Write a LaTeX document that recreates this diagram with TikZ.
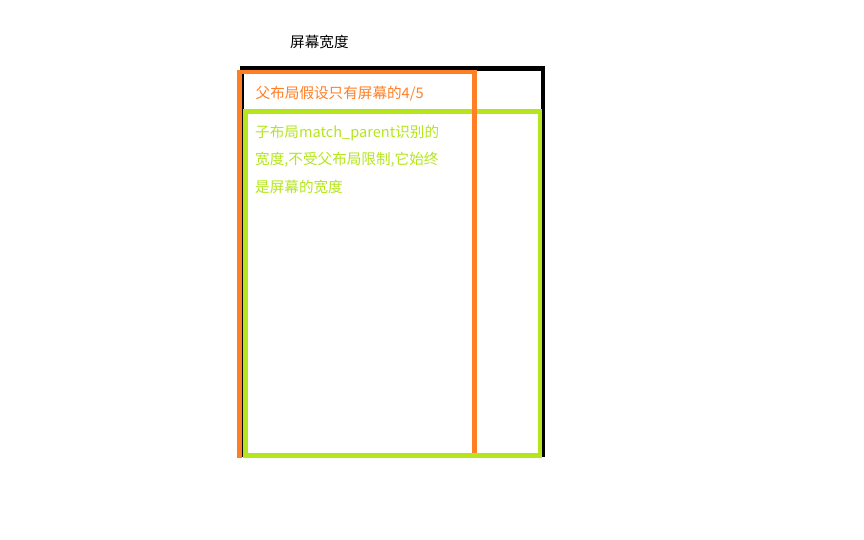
\documentclass[tikz,border=0pt]{standalone}
\usepackage{fontspec}
\setmainfont{Noto Sans CJK SC}
\definecolor{paintorange}{HTML}{FF7F27}
\definecolor{paintlime}{HTML}{B5E61D}
\begin{document}
\begin{tikzpicture}[x=1pt,y=-1pt,
  lbl/.style={anchor=west,inner sep=0pt,font=\fontsize{14.6}{16}\selectfont},
  frame/.style={line width=4.5pt}]
\useasboundingbox[fill=white] (0,0) rectangle (864,540);
% screen (black)
\draw[frame,black] (242,68.5) rectangle (543,455);
% child (green)
\draw[frame,paintlime] (245.5,111.5) rectangle (540,455.5);
% parent (orange)
\draw[frame,paintorange] (239.5,458) -- (239.5,72) -- (474.5,72) -- (474.5,453);
% green bottom edge over orange
\draw[frame,paintlime] (243.3,455.5) -- (542.2,455.5);
% labels
\node[lbl,text=black] (t0) at (290,42) {屏幕宽度};
\node[lbl,text=paintorange] (t1) at (255.5,94) {父布局假设只有屏幕的4/5};
\node[lbl,text=paintlime] (t2) at (255,133) {子布局match\_parent识别的};
\node[lbl,text=paintlime] (t3) at (255,160) {宽度,不受父布局限制,它始终};
\node[lbl,text=paintlime] (t4) at (255,187) {是屏幕的宽度};
\end{tikzpicture}
\end{document}
